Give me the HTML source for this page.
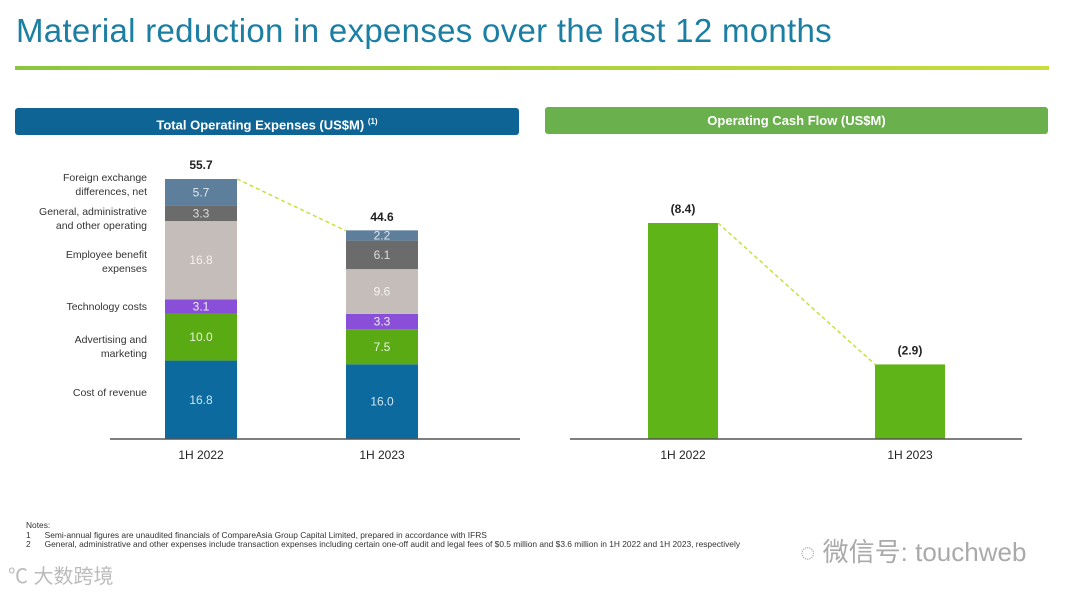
<!DOCTYPE html>
<html><head><meta charset="utf-8"><style>
body{margin:0;width:1080px;height:594px;background:#fff;font-family:"Liberation Sans",sans-serif;overflow:hidden;position:relative}
.abs{position:absolute}
</style></head><body>
<div class="abs" style="left:16px;top:12px;font-size:33px;color:#1b7ea3;letter-spacing:0.3px">Material reduction in expenses over the last 12 months</div>
<div class="abs" style="left:15px;top:66px;width:1034px;height:4px;background:linear-gradient(90deg,#8cc63f,#c8dc3c)"></div>
<div class="abs" style="left:15px;top:108px;width:504px;height:27px;background:#0f6496;border-radius:3px;color:#fff;font-weight:bold;font-size:13px;text-align:center;line-height:27px">Total Operating Expenses (US$M) <sup style="font-size:8px">(1)</sup></div>
<div class="abs" style="left:545px;top:107px;width:503px;height:27px;background:#6ab04c;border-radius:3px;color:#fff;font-weight:bold;font-size:13px;text-align:center;line-height:27px">Operating Cash Flow (US$M)</div>
<svg class="abs" style="left:0;top:0" width="1080" height="594" id="chart"></svg>
<div class="abs" style="left:26px;top:521px;font-size:8.4px;color:#333;line-height:9.5px;white-space:nowrap">Notes:<br>1&nbsp;&nbsp;&nbsp;&nbsp;&nbsp;&nbsp;Semi-annual figures are unaudited financials of CompareAsia Group Capital Limited, prepared in accordance with IFRS<br>2&nbsp;&nbsp;&nbsp;&nbsp;&nbsp;&nbsp;General, administrative and other expenses include transaction expenses including certain one-off audit and legal fees of $0.5 million and $3.6 million in 1H 2022 and 1H 2023, respectively</div>
<div class="abs" style="left:800px;top:532px;font-size:26px;color:#aaa;font-family:'Liberation Sans','Noto Sans CJK SC',sans-serif">◌ 微信号: touchweb</div>
<div class="abs" style="left:8px;top:560px;font-size:20px;color:#bbb;font-family:'Liberation Sans','Noto Sans CJK SC',sans-serif">℃ 大数跨境</div>
<script>
const periods=["1H 2022","1H 2023"];
const segNames=["Cost of revenue","Advertising and\nmarketing","Technology costs","Employee benefit\nexpenses","General, administrative\nand other operating","Foreign exchange\ndifferences, net"];
const segColors=["#0d6a9e","#5aaa14","#8a4fd8","#c5bdb9","#6b6b6b","#5e7f9b"];
const textColors=["#cfe6f3","#e8f5d8","#eee","#f4f2f1","#ddd","#dde6ee"];
const opex2022=[16.8,10.0,3.1,16.8,3.3,5.7];
const opex2023=[16.0,7.5,3.3,9.6,6.1,2.2];
const totals=[55.7,44.6];
const cashFlow=[8.4,2.9];
const cashLabels=["(8.4)","(2.9)"];
const svg=document.getElementById('chart');const NS="http://www.w3.org/2000/svg";
function mk(t,a,p){const e=document.createElementNS(NS,t);for(const k in a)e.setAttribute(k,a[k]);(p||svg).appendChild(e);return e;}
const base=439;
const yL=v=>v*(260/55.7);
const xL=[165,346],bw=72;
const labelY=[396,350,310,265,222,188];
[opex2022,opex2023].forEach((arr,i)=>{let acc=0;arr.forEach((v,j)=>{const y0=base-yL(acc),h=yL(v);
const r=mk('rect',{x:xL[i],y:y0-h,width:bw,height:h,fill:segColors[j]});


const t=mk('text',{x:xL[i]+bw/2,y:y0-h/2+4,'text-anchor':'middle','font-size':12,fill:textColors[j]});t.textContent=v.toFixed(1);


acc+=v;});
const tt=mk('text',{x:xL[i]+bw/2,y:base-yL(totals[i])-10,'text-anchor':'middle','font-size':12,'font-weight':'bold',fill:'#222'});tt.textContent=totals[i].toFixed(1);


const xl=mk('text',{x:xL[i]+bw/2,y:459,'text-anchor':'middle','font-size':12,fill:'#222'});xl.textContent=periods[i];


});
segNames.forEach((nm,j)=>{const lines=nm.split("\n");
lines.forEach((ln,k)=>{const t=mk('text',{x:147,y:labelY[j]+(k-(lines.length-1)/2)*14,'text-anchor':'end','font-size':10.5,fill:'#333'});t.textContent=ln;

});});
let c1=mk('line',{x1:xL[0]+bw,y1:base-yL(totals[0]),x2:xL[1],y2:base-yL(totals[1]),stroke:'#c8e03c','stroke-width':1.5,'stroke-dasharray':'4,3'});


let a1=mk('line',{x1:110,y1:base,x2:520,y2:base,stroke:'#555','stroke-width':1.5});


const yR=v=>v*(216/8.4);const xR=[648,875],bw2=70;
cashFlow.forEach((v,i)=>{const r=mk('rect',{x:xR[i],y:base-yR(v),width:bw2,height:yR(v),fill:'#5fb418'});


const t=mk('text',{x:xR[i]+bw2/2,y:base-yR(v)-10,'text-anchor':'middle','font-size':12,'font-weight':'bold',fill:'#222'});t.textContent=cashLabels[i];


const xl=mk('text',{x:xR[i]+bw2/2,y:459,'text-anchor':'middle','font-size':12,fill:'#222'});xl.textContent=periods[i];

});
let c2=mk('line',{x1:xR[0]+bw2,y1:base-yR(cashFlow[0]),x2:xR[1],y2:base-yR(cashFlow[1]),stroke:'#c8e03c','stroke-width':1.5,'stroke-dasharray':'4,3'});


let a2=mk('line',{x1:570,y1:base,x2:1022,y2:base,stroke:'#555','stroke-width':1.5});


</script>
</body></html>
